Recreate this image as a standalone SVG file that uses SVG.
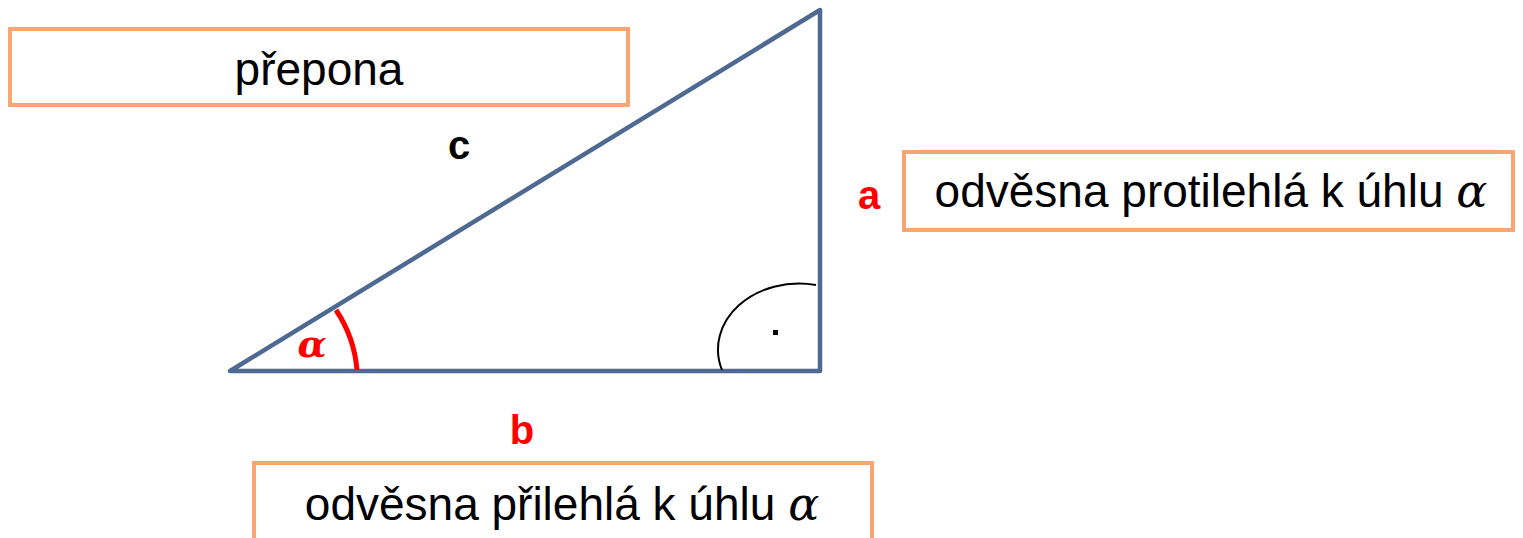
<svg xmlns="http://www.w3.org/2000/svg" width="1523" height="538" viewBox="0 0 1523 538">
<style>
.box{fill:#fff;stroke:#F9A574;stroke-width:4}
.lbl{font-family:"Liberation Sans",Arial,sans-serif;font-size:46px;fill:#000;text-anchor:middle}
.greek{font-family:"DejaVu Serif","Liberation Serif",serif;font-style:italic}
.side{font-family:"Liberation Sans",Arial,sans-serif;font-size:40px;font-weight:bold;text-anchor:middle}
.tri{fill:none;stroke:#4E6A92;stroke-width:4.5;stroke-linejoin:round;stroke-linecap:round}
</style>
<rect width="1523" height="538" fill="#fff"/>
<g id="triangle">
<polygon class="tri" points="230,371 820,10 820,371"/>
</g>
<g id="angle-alpha">
<path d="M336,310 A127,127 0 0 1 357,370" fill="none" stroke="#FF0000" stroke-width="5"/>
<text x="312" y="357" font-family="DejaVu Serif,Liberation Serif,serif" font-style="italic" font-weight="bold" font-size="38" fill="#FF0000" text-anchor="middle">α</text>
</g>
<g id="right-angle">
<path d="M722,370 A81,66 0 0 1 816,285" fill="none" stroke="#000" stroke-width="2"/>
<rect x="773" y="330" width="5" height="5" fill="#000"/>
</g>
<g id="label-c"><text class="side" x="459" y="159" fill="#000">c</text></g>
<g id="label-a"><text class="side" x="869" y="209" fill="#FF0000">a</text></g>
<g id="label-b"><text class="side" x="522" y="444" fill="#FF0000">b</text></g>
<g id="box-prepona">
<rect class="box" x="10" y="29" width="618" height="76"/>
<text class="lbl" x="319" y="85">přepona</text>
</g>
<g id="box-protilehla">
<rect class="box" x="904" y="152" width="609" height="78"/>
<text class="lbl" x="1211" y="207">odvěsna protilehlá k úhlu <tspan class="greek">α</tspan></text>
</g>
<g id="box-prilehla">
<rect class="box" x="254" y="463" width="618" height="90"/>
<text class="lbl" x="562" y="520">odvěsna přilehlá k úhlu <tspan class="greek">α</tspan></text>
</g>
<g id="connectors"></g>
</svg>
